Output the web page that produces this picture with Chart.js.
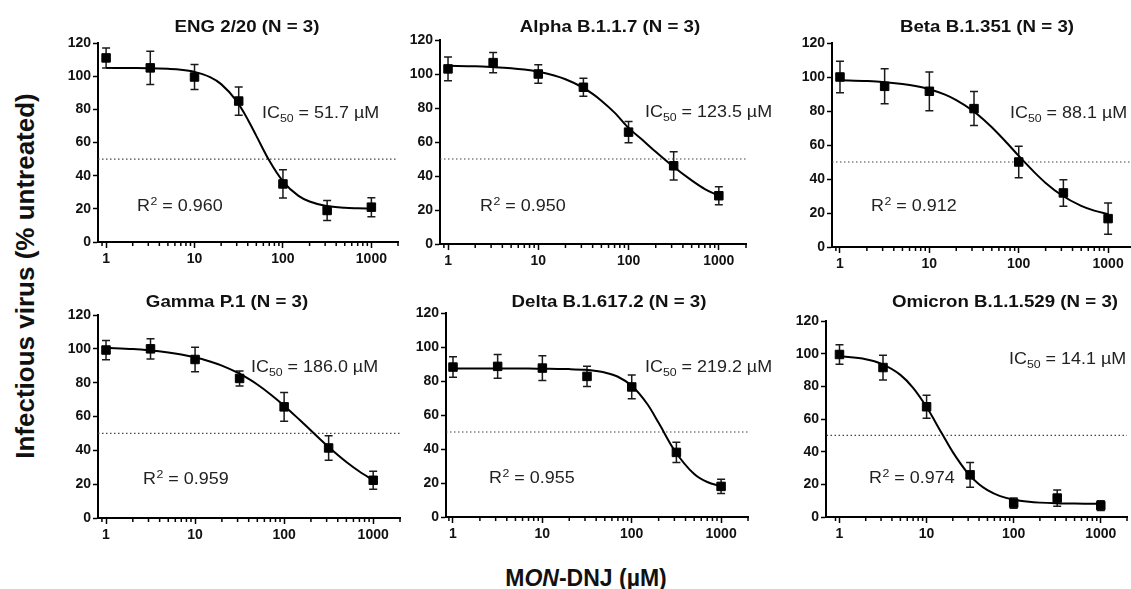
<!DOCTYPE html>
<html>
<head>
<meta charset="utf-8">
<script src="https://cdn.jsdelivr.net/npm/chart.js@4.4.1/dist/chart.umd.min.js"></script>
<style>
  html, body { margin: 0; padding: 0; background: #fff; }
  body { width: 1131px; height: 589px; position: relative; overflow: hidden; font-family: "Liberation Sans", Arial, sans-serif; color: #111; }
  canvas { position: absolute; }
  .ytitle { position: absolute; left: -225px; top: 261px; width: 500px; height: 30px; line-height: 30px; text-align: center; font-size: 26px; font-weight: bold; transform: rotate(-90deg); }
  .xtitle { position: absolute; left: 286px; top: 567px; width: 600px; line-height: 23px; text-align: center; font-size: 23px; font-weight: bold; }
</style>
</head>
<body>
<div class="ytitle">Infectious virus (% untreated)</div>
<div class="xtitle">M<i>ON</i>-DNJ (µM)</div>
<script>
// doses (µM) and tick values
const doses = [1, 3.16, 10, 31.6, 100, 316, 1000];
const fitDoses = [1, 2, 3, 5, 7, 10, 15, 20, 30, 40, 50, 70, 100, 150, 200, 300, 500, 700, 1000];
const xMajor = [1, 10, 100, 1000];
const xMinor = [0.9, 2, 3, 4, 5, 6, 7, 8, 9, 20, 30, 40, 50, 60, 70, 80, 90,
  200, 300, 400, 500, 600, 700, 800, 900, 2000];
const yTicks = [0, 20, 40, 60, 80, 100, 120];

const titles = ["ENG 2/20 (N = 3)", "Alpha B.1.1.7 (N = 3)", "Beta B.1.351 (N = 3)",
  "Gamma P.1 (N = 3)", "Delta B.1.617.2 (N = 3)", "Omicron B.1.1.529 (N = 3)"];
const ic50 = ["51.7", "123.5", "88.1", "186.0", "219.2", "14.1"];
const r2 = ["0.960", "0.950", "0.912", "0.959", "0.955", "0.974"];

// mean and SD of infectious virus (% untreated) at each dose
const engMean = [111, 105, 99.5, 85, 35, 19, 21];
const engSd = [6, 10, 7.5, 8.5, 8.5, 6, 5.7];
const alphaMean = [103, 106.7, 100, 92.2, 65.8, 46, 28.4];
const alphaSd = [7, 6, 5.5, 5.3, 6.2, 8.3, 5.3];
const betaMean = [100, 94.5, 91.6, 81.4, 50, 31.8, 16.7];
const betaSd = [9.3, 10.3, 11.4, 10, 9.2, 7.8, 9.2];
const gammaMean = [99.3, 100, 93.7, 82.5, 65.7, 41.4, 22.3];
const gammaSd = [5.7, 6, 7.2, 4.4, 8.5, 7.2, 5.3];
const deltaMean = [88.2, 88.6, 87.6, 82.7, 76.5, 38, 18];
const deltaSd = [6, 7, 7.3, 6, 7, 6, 4.2];
const omicronMean = [99.5, 91.5, 67.5, 25.8, 8.5, 11.6, 7];
const omicronSd = [6, 7.6, 7, 7.6, 3.2, 5, 3];

// fitted curves at fitDoses
const engFit = [105.0, 104.9, 104.8, 104.4, 103.9, 102.6, 99.4, 95.2, 84.9, 73.9, 64.0, 49.1, 36.6, 27.8, 24.4, 21.9, 20.6, 20.3, 20.1];
const alphaFit = [104.8, 104.5, 104.1, 103.4, 102.6, 101.3, 99.1, 96.9, 92.5, 88.3, 84.3, 77.3, 68.3, 60.2, 54.2, 46.3, 37.4, 32.3, 28.4];
const betaFit = [98.1, 97.6, 97.1, 95.9, 94.7, 92.8, 89.6, 86.4, 80.5, 75.2, 70.4, 62.5, 53.6, 43.9, 37.7, 30.6, 24.2, 21.4, 19.3];
const gammaFit = [100.6, 99.9, 99.2, 97.9, 96.7, 95.0, 92.4, 90.1, 85.9, 82.2, 78.9, 73.2, 66.4, 57.9, 51.7, 43.0, 33.1, 27.5, 22.4];
const deltaFit = [87.3, 87.3, 87.3, 87.3, 87.3, 87.2, 87.1, 87.0, 86.6, 85.9, 85.0, 82.5, 77.2, 66.3, 55.4, 39.3, 25.3, 20.6, 18.1];
const omicronFit = [98.4, 96.6, 93.9, 87.0, 79.1, 67.3, 51.1, 39.7, 26.6, 20.1, 16.5, 12.8, 10.6, 9.3, 8.8, 8.4, 8.2, 8.1, 8.0];

const means = [engMean, alphaMean, betaMean, gammaMean, deltaMean, omicronMean];
const sds = [engSd, alphaSd, betaSd, gammaSd, deltaSd, omicronSd];
const fits = [engFit, alphaFit, betaFit, gammaFit, deltaFit, omicronFit];

// layout: plot areas on the page [left, top, right, bottom], axis ranges
const areas = [[98, 43, 398, 242], [440, 40, 746, 244], [832, 43, 1135, 247],
  [98, 315, 400, 518], [446, 313, 748, 517], [826, 321, 1127, 517]];
const xMins = [0.81, 0.815, 0.814, 0.813, 0.835, 0.71];
const X_MAX = 2000;
const titlePos = [[247, 32], [610, 32], [987, 32], [227, 307], [609, 307], [1005, 307]];
const icPos = [[262, 118], [645, 117], [1010, 118], [251, 372], [645, 372], [1009, 364]];
const r2Pos = [[137, 211], [480, 211], [871, 211], [143, 484], [489, 483], [869, 483]];

const PAD_L = 50, PAD_T = 40, PAD_R = 40, PAD_B = 30;
const FONT = '"Liberation Sans", Arial, sans-serif';
const tickFont = { family: FONT, size: 14, weight: 'bold' };

function panelPlugin(i, ox, oy) {
  return {
    id: 'panel' + i,
    beforeDatasetsDraw(chart) {
      const { ctx, scales: { x, y } } = chart;
      ctx.save();
      ctx.strokeStyle = '#1a1a1a';
      ctx.lineWidth = 1.5;
      doses.forEach((d, k) => {
        const px = x.getPixelForValue(d);
        const top = y.getPixelForValue(means[i][k] + sds[i][k]);
        const bot = y.getPixelForValue(means[i][k] - sds[i][k]);
        ctx.beginPath();
        ctx.moveTo(px, top); ctx.lineTo(px, bot);
        ctx.moveTo(px - 4, top); ctx.lineTo(px + 4, top);
        ctx.moveTo(px - 4, bot); ctx.lineTo(px + 4, bot);
        ctx.stroke();
      });
      ctx.restore();
    },
    afterDraw(chart) {
      const { ctx, scales: { x }, chartArea } = chart;
      ctx.save();
      // minor log ticks
      ctx.strokeStyle = '#000';
      ctx.lineWidth = 1.5;
      xMinor.forEach(v => {
        if (v <= xMins[i] * 1.02 || v > X_MAX) return;
        const px = Math.min(x.getPixelForValue(v), chartArea.right);
        ctx.beginPath();
        ctx.moveTo(px, chartArea.bottom);
        ctx.lineTo(px, chartArea.bottom + 4);
        ctx.stroke();
      });
      ctx.fillStyle = '#111';
      ctx.textBaseline = 'alphabetic';
      // title
      ctx.save();
      ctx.translate(titlePos[i][0] - ox, titlePos[i][1] - oy);
      ctx.scale(1.1, 1);
      ctx.font = 'bold 17px ' + FONT;
      ctx.textAlign = 'center';
      ctx.fillText(titles[i], 0, 0);
      ctx.restore();
      // IC50 label
      ctx.fillStyle = '#222';
      ctx.textAlign = 'left';
      ctx.save();
      ctx.translate(icPos[i][0] - ox, icPos[i][1] - oy);
      ctx.scale(1.12, 1);
      ctx.font = '16px ' + FONT;
      ctx.fillText('IC', 0, 0);
      let w = ctx.measureText('IC').width;
      ctx.font = '11px ' + FONT;
      ctx.fillText('50', w, 4);
      w += ctx.measureText('50').width;
      ctx.font = '16px ' + FONT;
      ctx.fillText(' = ' + ic50[i] + ' µM', w, 0);
      ctx.restore();
      // R2 label
      ctx.save();
      ctx.translate(r2Pos[i][0] - ox, r2Pos[i][1] - oy);
      ctx.scale(1.12, 1);
      ctx.font = '16px ' + FONT;
      ctx.fillText('R', 0, 0);
      w = ctx.measureText('R').width + 0.5;
      ctx.font = '11px ' + FONT;
      ctx.fillText('2', w, -6);
      w += ctx.measureText('2').width;
      ctx.font = '16px ' + FONT;
      ctx.fillText(' = ' + r2[i], w, 0);
      ctx.restore();
      ctx.restore();
    }
  };
}

areas.forEach((a, i) => {
  const [L, T, R, B] = a;
  const w = R - L + PAD_L + PAD_R, h = B - T + PAD_T + PAD_B;
  const ox = L - PAD_L, oy = T - PAD_T;
  const cv = document.createElement('canvas');
  cv.width = w; cv.height = h;
  cv.style.left = ox + 'px'; cv.style.top = oy + 'px';
  cv.style.width = w + 'px'; cv.style.height = h + 'px';
  document.body.appendChild(cv);

  new Chart(cv, {
    type: 'scatter',
    data: {
      datasets: [
        {
          data: doses.map((d, k) => ({ x: d, y: means[i][k] })),
          pointStyle: 'rect', pointRadius: 6, pointBorderWidth: 1,
          pointBackgroundColor: '#000', pointBorderColor: '#000', showLine: false
        },
        {
          data: fitDoses.map((d, k) => ({ x: d, y: fits[i][k] })),
          showLine: true, borderColor: '#000', borderWidth: 2, pointRadius: 0,
          cubicInterpolationMode: 'monotone', fill: false
        },
        {
          data: [{ x: xMins[i], y: 50 }, { x: X_MAX, y: 50 }],
          showLine: true, borderColor: '#444', borderWidth: 1.2,
          borderDash: [1.5, 2.5], pointRadius: 0, fill: false
        }
      ]
    },
    options: {
      responsive: false, animation: false, devicePixelRatio: 1,
      layout: { padding: { left: 0, top: PAD_T, right: PAD_R, bottom: 0 } },
      plugins: { legend: { display: false }, tooltip: { enabled: false } },
      scales: {
        x: {
          type: 'logarithmic', min: xMins[i], max: X_MAX,
          afterBuildTicks: s => { s.ticks = xMajor.map(v => ({ value: v, major: true })); },
          afterFit: s => { s.height = PAD_B; },
          ticks: { callback: v => String(v), font: tickFont, color: '#111', padding: 3, maxRotation: 0, autoSkip: false },
          grid: { display: true, drawOnChartArea: false, drawTicks: true, tickLength: 6, tickWidth: 1.5, tickColor: '#000' },
          border: { display: true, width: 2, color: '#000' }
        },
        y: {
          min: 0, max: 120,
          afterBuildTicks: s => { s.ticks = yTicks.map(v => ({ value: v })); },
          afterFit: s => { s.width = PAD_L; },
          ticks: { font: tickFont, color: '#111', padding: 2 },
          grid: { display: true, drawOnChartArea: false, drawTicks: true, tickLength: 5, tickWidth: 1.5, tickColor: '#000' },
          border: { display: true, width: 2, color: '#000' }
        }
      }
    },
    plugins: [panelPlugin(i, ox, oy)]
  });
});
</script>
</body>
</html>
